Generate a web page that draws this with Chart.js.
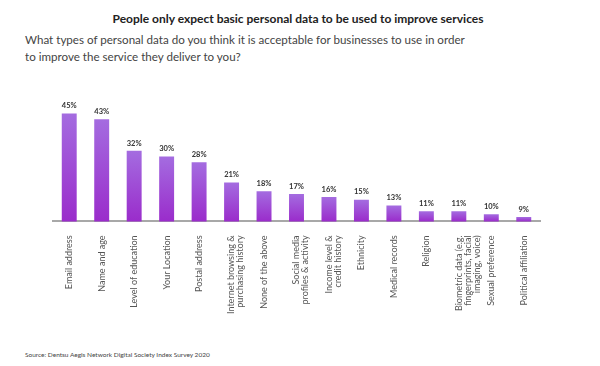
<!DOCTYPE html>
<html>
<head>
<meta charset="utf-8">
<script src="https://cdn.jsdelivr.net/npm/chart.js@4"></script>
<style>
  body { margin: 0; background: #fff; font-family: Lato, "Noto Sans", sans-serif; }
  #wrap { position: relative; width: 600px; height: 366px; }
  #title { position: absolute; top: 11px; left: 0; width: 596px; text-align: center; font-weight: bold; font-size: 12px; color: #222; }
  #sub { position: absolute; top: 31px; left: 25px; width: 520px; font-size: 11.6px; line-height: 17px; color: #444; }
  #source { position: absolute; top: 351px; left: 25px; font-size: 6.5px; color: #444; }
  canvas { position: absolute; top: 0; left: 0; }
</style>
</head>
<body>
<div id="wrap">
  <div id="title">People only expect basic personal data to be used to improve services</div>
  <div id="sub">What types of personal data do you think it is acceptable for businesses to use in order<br>to improve the service they deliver to you?</div>
  <div id="source">Source: Dentsu Aegis Network Digital Society Index Survey 2020</div>
  <canvas id="myChart" width="600" height="366"></canvas>
</div>
<script>
const categories = [
    'Email address', 'Name and age', 'Level of education', 'Your Location', 'Postal address',
    ['Internet browsing &', 'purchasing history'], 'None of the above',
    ['Social media', 'profiles & activity'], ['Income level &', 'credit history'], 'Ethnicity',
    'Medical records', 'Religion', ['Biometric data (e.g.', 'fingerprints, facial', 'imaging, voice)'],
    'Sexual preference', 'Political affiliation'
];
const values = [45, 43, 32, 30, 28, 21, 18, 17, 16, 15, 13, 11, 11, 10, 9];

// per-bar vertical gradient, light at the top, deeper at the base
function barColor(context) {
    const chart = context.chart;
    const y = chart.scales.y;
    if (!y || context.parsed === undefined) return '#a060dc';
    const top = y.getPixelForValue(context.parsed.y);
    const base = y.getPixelForValue(y.min);
    if (!isFinite(top) || !isFinite(base) || base - top < 1) return '#a060dc';
    const g = chart.ctx.createLinearGradient(0, top, 0, base);
    g.addColorStop(0, '#a46ce0');
    g.addColorStop(1, '#9a2ccb');
    return g;
}

const valueLabels = {
    id: 'valueLabels',
    afterDatasetsDraw(chart) {
        const ctx = chart.ctx;
        const meta = chart.getDatasetMeta(0);
        ctx.save();
        ctx.font = 'bold 7.5px Lato, "Noto Sans", sans-serif';
        ctx.fillStyle = '#333';
        ctx.textAlign = 'center';
        ctx.textBaseline = 'bottom';
        meta.data.forEach((bar, i) => {
            ctx.fillText(values[i] + '%', bar.x, bar.y - 4);
        });
        ctx.restore();
    }
};

const ctx = document.getElementById('myChart').getContext('2d');
const myChart = new Chart(ctx, {
    type: 'bar',
    data: {
        labels: categories,
        datasets: [{
            data: values,
            backgroundColor: barColor,
            barPercentage: 0.46,
            categoryPercentage: 1
        }]
    },
    options: {
        responsive: false,
        animation: false,
        layout: { padding: { left: 53, right: 60, top: 99, bottom: 46 } },
        plugins: {
            legend: { display: false },
            tooltip: { enabled: false }
        },
        scales: {
            x: {
                grid: { display: false },
                border: { display: true, color: '#a8a8a8', width: 2 },
                ticks: {
                    minRotation: 90,
                    maxRotation: 90,
                    autoSkip: false,
                    padding: 6,
                    color: '#555',
                    font: { size: 9, lineHeight: 1.0, family: 'Lato, "Noto Sans", sans-serif' }
                }
            },
            y: {
                display: false,
                min: 7.5,
                max: 50
            }
        }
    },
    plugins: [valueLabels]
});
</script>
</body>
</html>
